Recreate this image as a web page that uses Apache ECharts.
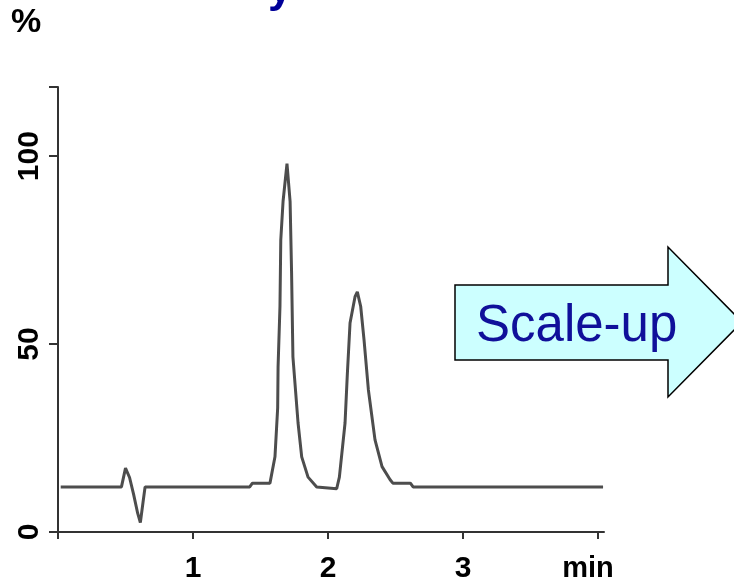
<!DOCTYPE html>
<html>
<head>
<meta charset="utf-8">
<script src="https://cdn.jsdelivr.net/npm/echarts@6/dist/echarts.min.js"></script>
<style>html,body{margin:0;padding:0;background:#fff;}#c{width:734px;height:585px;}</style>
</head>
<body>
<div id="c"></div>
<script>
// retention time (min)
const timeMin = [0.02, 0.47, 0.50, 0.53, 0.56, 0.59, 0.61, 0.63, 0.645,
  1.42, 1.44, 1.57, 1.607, 1.627, 1.63, 1.644, 1.65, 1.667, 1.696,
  1.719, 1.73, 1.74, 1.778, 1.805, 1.852, 1.916, 2.064,
  2.084, 2.126, 2.143, 2.163, 2.2, 2.217,
  2.242, 2.267, 2.299, 2.348, 2.4, 2.46, 2.48, 2.61, 2.63, 4.037];
// signal (%)
const signalPct = [12, 12, 17, 14.5, 10, 5, 2.5, 8, 12,
  12, 13, 13, 20, 33, 44, 60, 77.7, 88, 98,
  88, 69, 46.6, 29, 20, 14.6, 12, 11.5,
  14.6, 29, 42, 55.6, 62.6, 63.9,
  60, 51, 37.8, 24.5, 17.4, 13.9, 13, 13, 12, 12];
const xTicks = {1: '1', 2: '2', 3: '3', 4: 'min'};
const yTicks = [0, 50, 100];

const chart = echarts.init(document.getElementById('c'), null, {renderer: 'canvas'});
const font = 'Liberation Sans, Arial, sans-serif';
chart.setOption({
  animation: false,
  backgroundColor: '#fff',
  grid: {left: 58, top: 87, width: 546, height: 445, containLabel: false},
  xAxis: {
    type: 'value', min: 0, max: 4.044, interval: 1,
    axisLine: {show: true, lineStyle: {color: '#333', width: 2}},
    axisTick: {show: true, length: 7, lineStyle: {color: '#333', width: 2}},
    splitLine: {show: false},
    axisLabel: {
      margin: 22, color: '#000', fontFamily: font, fontWeight: 'bold', fontSize: 30,
      showMaxLabel: false,
      formatter: v => { const t = xTicks[Math.round(v)]; if (!t) return ''; return t === 'min' ? '{m|min}' : t; },
      rich: {m: {fontFamily: font, fontWeight: 'bold', fontSize: 29, color: '#000', padding: [0, 20, 0, 0]}}
    }
  },
  yAxis: {
    type: 'value', min: 0, max: 118.4, interval: 50,
    axisLine: {show: true, lineStyle: {color: '#333', width: 2}},
    axisTick: {show: true, length: 9, lineStyle: {color: '#333', width: 2}},
    splitLine: {show: false},
    axisLabel: {
      rotate: 90, margin: 13, color: '#000', fontFamily: font, fontWeight: 'bold', fontSize: 30,
      formatter: v => yTicks.includes(v) ? String(v) : ''
    }
  },
  series: [{
    type: 'line',
    data: timeMin.map((t, i) => [t, signalPct[i]]),
    showSymbol: false,
    lineStyle: {color: '#4d4d4d', width: 3},
    z: 3
  }],
  graphic: [
    {type: 'text', left: 11, top: 6, style: {text: '%', fontFamily: font, fontWeight: 'bold', fontSize: 34, fill: '#000'}},
    {type: 'text', x: 268, y: -32, style: {text: 'y', fontFamily: font, fontWeight: 'bold', fontSize: 44, fill: '#000099'}},
    {type: 'polygon', shape: {points: [[455,285],[668,285],[668,247],[742,322],[668,397],[668,360],[455,360]]},
      style: {fill: '#ccffff', stroke: '#000', lineWidth: 1.5}},
    {type: 'text', x: 476, y: 327, style: {text: 'Scale-up', fontFamily: font, fontSize: 51, fill: '#10109a', textVerticalAlign: 'middle'}}
  ]
});
</script>
</body>
</html>
